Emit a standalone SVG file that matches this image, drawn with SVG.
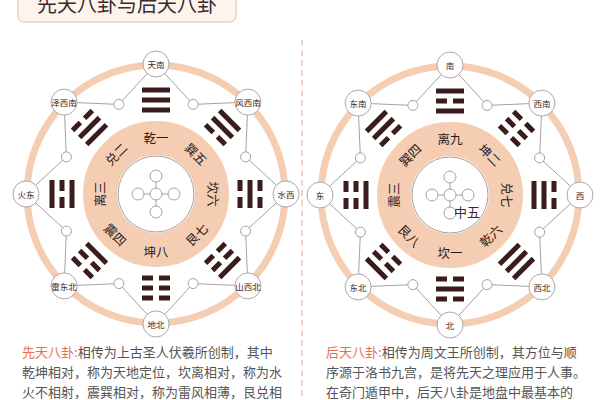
<svg xmlns="http://www.w3.org/2000/svg" xmlns:xlink="http://www.w3.org/1999/xlink" width="600" height="400" viewBox="0 0 600 400">
<style>
text{font-family:"Noto Sans CJK SC","Noto Sans",sans-serif;fill:#3a2a2a}
.nd{fill:#fff;stroke:#b0a8a8;stroke-width:1}
.nt{font-size:8.5px;text-anchor:middle;dominant-baseline:central}
.lb{font-size:12.5px;text-anchor:middle;dominant-baseline:central;fill:#2a1a1a}
.bt{font-size:13px;fill:#555}
.hl{fill:#e8704a}
.tg{fill:#3a1c1c}
</style>
<defs>
<g id="base">
<polygon points="0,-130 37.1,-89.6 91.9,-91.9 89.6,-37.1 130,0 89.6,37.1 91.9,91.9 37.1,89.6 0,130 -37.1,89.6 -91.9,91.9 -89.6,37.1 -130,0 -89.6,-37.1 -91.9,-91.9 -37.1,-89.6" fill="#fff" stroke="#a8a0a0" stroke-width="1"/>
<circle r="129" fill="none" stroke="#f5cdb2" stroke-width="7"/>
<g fill="#fff" stroke="#a8a0a0">
<circle cx="37.1" cy="-89.6" r="5"/><circle cx="89.6" cy="-37.1" r="5"/><circle cx="89.6" cy="37.1" r="5"/><circle cx="37.1" cy="89.6" r="5"/>
<circle cx="-37.1" cy="89.6" r="5"/><circle cx="-89.6" cy="37.1" r="5"/><circle cx="-89.6" cy="-37.1" r="5"/><circle cx="-37.1" cy="-89.6" r="5"/>
</g>
<circle r="56" fill="none" stroke="#f5cdb2" stroke-width="34"/>
<circle r="38" fill="#fff" stroke="#a8a0a0"/>
<g stroke="#a8a0a0" fill="#fff">
<line x1="-18" y1="0" x2="18" y2="0"/><line x1="0" y1="-18" x2="0" y2="18"/>
<circle r="6"/><circle cy="-18" r="6"/><circle cy="18" r="6"/><circle cx="-18" r="6"/><circle cx="18" r="6"/>
</g>
</g>
<g id="s1"><rect x="-14" y="-2.5" width="28" height="5"/></g>
<g id="s0"><rect x="-14" y="-2.5" width="11" height="5"/><rect x="3" y="-2.5" width="11" height="5"/></g>
<g id="t111" class="tg"><use href="#s1" y="-84"/><use href="#s1" y="-94"/><use href="#s1" y="-104"/></g>
<g id="t000" class="tg"><use href="#s0" y="-84"/><use href="#s0" y="-94"/><use href="#s0" y="-104"/></g>
<g id="t011" class="tg"><use href="#s0" y="-84"/><use href="#s1" y="-94"/><use href="#s1" y="-104"/></g>
<g id="t010" class="tg"><use href="#s0" y="-84"/><use href="#s1" y="-94"/><use href="#s0" y="-104"/></g>
<g id="t001" class="tg"><use href="#s0" y="-84"/><use href="#s0" y="-94"/><use href="#s1" y="-104"/></g>
<g id="t100" class="tg"><use href="#s1" y="-84"/><use href="#s0" y="-94"/><use href="#s0" y="-104"/></g>
<g id="t101" class="tg"><use href="#s1" y="-84"/><use href="#s0" y="-94"/><use href="#s1" y="-104"/></g>
<g id="t110" class="tg"><use href="#s1" y="-84"/><use href="#s1" y="-94"/><use href="#s0" y="-104"/></g>
</defs>
<rect width="600" height="400" fill="#fff"/>
<g id="title">
<rect x="18" y="-12" width="218" height="34" rx="6" fill="#fdf4ee" stroke="#e6b8a0"/>
<text x="127" y="12" font-size="20" text-anchor="middle" fill="#333">先天八卦与后天八卦</text>
</g>
<line x1="302" y1="40" x2="302" y2="400" stroke="#e4a792" stroke-dasharray="6,4"/>
<use href="#base" transform="translate(156,194)"/>
<use href="#base" transform="translate(450,195)"/>
<g id="connectors"></g>
<g id="left-trigrams">
<use href="#t111" transform="translate(156,194)"/>
<use href="#t011" transform="translate(156,194) rotate(45)"/>
<use href="#t010" transform="translate(156,194) rotate(90)"/>
<use href="#t001" transform="translate(156,194) rotate(135)"/>
<use href="#t000" transform="translate(156,194) rotate(180)"/>
<use href="#t100" transform="translate(156,194) rotate(225)"/>
<use href="#t101" transform="translate(156,194) rotate(270)"/>
<use href="#t110" transform="translate(156,194) rotate(315)"/>
</g>
<g id="right-trigrams">
<use href="#t101" transform="translate(450,195)"/>
<use href="#t000" transform="translate(450,195) rotate(45)"/>
<use href="#t110" transform="translate(450,195) rotate(90)"/>
<use href="#t111" transform="translate(450,195) rotate(135)"/>
<use href="#t010" transform="translate(450,195) rotate(180)"/>
<use href="#t001" transform="translate(450,195) rotate(225)"/>
<use href="#t100" transform="translate(450,195) rotate(270)"/>
<use href="#t011" transform="translate(450,195) rotate(315)"/>
</g>
<g id="left-labels">
<text class="lb" transform="translate(156,137)">乾一</text>
<text class="lb" transform="translate(196.3,153.7) rotate(45)">巽五</text>
<text class="lb" transform="translate(213,194) rotate(90)">坎六</text>
<text class="lb" transform="translate(196.3,234.3) rotate(-45)">艮七</text>
<text class="lb" transform="translate(156,251)">坤八</text>
<text class="lb" transform="translate(115.7,234.3) rotate(45)">震四</text>
<text class="lb" transform="translate(99,194) rotate(-90)">离三</text>
<text class="lb" transform="translate(115.7,153.7) rotate(-45)">兑二</text>
</g>
<g id="right-labels">
<text class="lb" transform="translate(450,138)">离九</text>
<text class="lb" transform="translate(490.3,154.7) rotate(45)">坤二</text>
<text class="lb" transform="translate(507,195) rotate(90)">兑七</text>
<text class="lb" transform="translate(490.3,235.3) rotate(-45)">乾六</text>
<text class="lb" transform="translate(450,252)">坎一</text>
<text class="lb" transform="translate(409.7,235.3) rotate(45)">艮八</text>
<text class="lb" transform="translate(393,195) rotate(-90)">震三</text>
<text class="lb" transform="translate(409.7,154.7) rotate(-45)">巽四</text>
<text x="467" y="211" font-size="13" text-anchor="middle" dominant-baseline="central" fill="#2a1a1a">中五</text>
</g>
<g id="n-tiannan"><circle class="nd" cx="156" cy="64" r="13"/><text class="nt" x="156" y="64">天南</text></g>
<g id="n-fengxinan"><circle class="nd" cx="247.9" cy="102.1" r="13"/><text class="nt" x="247.9" y="102.1" font-size="7.5">风西南</text></g>
<g id="n-shuixi"><circle class="nd" cx="286" cy="194" r="13"/><text class="nt" x="286" y="194">水西</text></g>
<g id="n-shanxibei"><circle class="nd" cx="247.9" cy="285.9" r="13"/><text class="nt" x="247.9" y="285.9" font-size="7.5">山西北</text></g>
<g id="n-dibei"><circle class="nd" cx="156" cy="324" r="13"/><text class="nt" x="156" y="324">地北</text></g>
<g id="n-leidongbei"><circle class="nd" cx="64.1" cy="285.9" r="13"/><text class="nt" x="64.1" y="285.9" font-size="7.5">雷东北</text></g>
<g id="n-huodong"><circle class="nd" cx="26" cy="194" r="13"/><text class="nt" x="26" y="194">火东</text></g>
<g id="n-zexinan"><circle class="nd" cx="64.1" cy="102.1" r="13"/><text class="nt" x="64.1" y="102.1" font-size="7.5">泽西南</text></g>
<g id="n-nan"><circle class="nd" cx="450" cy="65" r="13"/><text class="nt" x="450" y="65">南</text></g>
<g id="n-xinan"><circle class="nd" cx="541.9" cy="103.1" r="13"/><text class="nt" x="541.9" y="103.1">西南</text></g>
<g id="n-xi"><circle class="nd" cx="580" cy="195" r="13"/><text class="nt" x="580" y="195">西</text></g>
<g id="n-xibei"><circle class="nd" cx="541.9" cy="286.9" r="13"/><text class="nt" x="541.9" y="286.9">西北</text></g>
<g id="n-bei"><circle class="nd" cx="450" cy="325" r="13"/><text class="nt" x="450" y="325">北</text></g>
<g id="n-dongbei"><circle class="nd" cx="358.1" cy="286.9" r="13"/><text class="nt" x="358.1" y="286.9">东北</text></g>
<g id="n-dong"><circle class="nd" cx="320" cy="195" r="13"/><text class="nt" x="320" y="195">东</text></g>
<g id="n-dongnan"><circle class="nd" cx="358.1" cy="103.1" r="13"/><text class="nt" x="358.1" y="103.1">东南</text></g>
<g id="captions">
<text class="bt" x="22" y="357"><tspan class="hl">先天八卦:</tspan>相传为上古圣人伏羲所创制，其中</text>
<text class="bt" x="22" y="377">乾坤相对，称为天地定位，坎离相对，称为水</text>
<text class="bt" x="22" y="397">火不相射，震巽相对，称为雷风相薄，艮兑相</text>
<text class="bt" x="326" y="357"><tspan class="hl">后天八卦:</tspan>相传为周文王所创制，其方位与顺</text>
<text class="bt" x="326" y="377">序源于洛书九宫，是将先天之理应用于人事。</text>
<text class="bt" x="326" y="397">在奇门遁甲中，后天八卦是地盘中最基本的</text>
</g>
</svg>
